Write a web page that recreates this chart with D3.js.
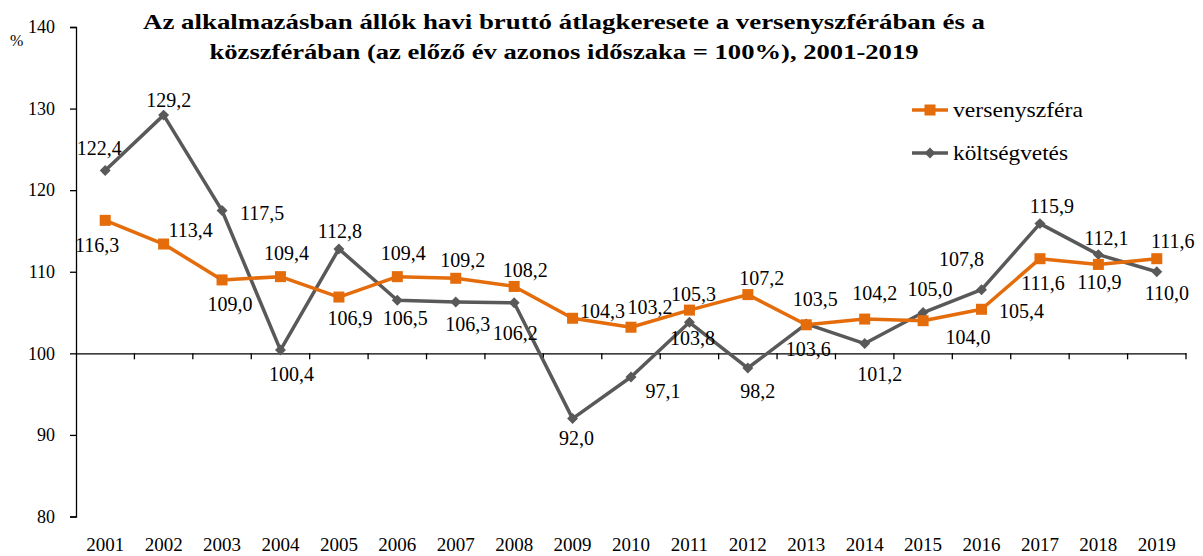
<!DOCTYPE html>
<html>
<head>
<meta charset="utf-8">
<script src="https://cdn.jsdelivr.net/npm/d3@7"></script>
<style>
  body { margin: 0; background: #fff; }
  svg { display: block; }
  text { font-family: "Liberation Serif", "Times New Roman", serif; fill: #000; }
</style>
</head>
<body>
<svg id="chart" width="1203" height="556"></svg>
<script>
// ---- data ----
const years = ["2001","2002","2003","2004","2005","2006","2007","2008","2009","2010",
               "2011","2012","2013","2014","2015","2016","2017","2018","2019"];
const versenyszfera = [116.3,113.4,109.0,109.4,106.9,109.4,109.2,108.2,104.3,103.2,
                       105.3,107.2,103.5,104.2,104.0,105.4,111.6,110.9,111.6];
const koltsegvetes  = [122.4,129.2,117.5,100.4,112.8,106.5,106.3,106.2,92.0,97.1,
                       103.8,98.2,103.6,101.2,105.0,107.8,115.9,112.1,110.0];
const yTicks = [80, 90, 100, 110, 120, 130, 140];
const seriesNames = ["versenyszféra", "költségvetés"];
const titleLines = ["Az alkalmazásban állók havi bruttó átlagkeresete a versenyszférában és a",
                    "közszférában (az előző év azonos időszaka = 100%), 2001-2019"];

// ---- layout (label offsets relative to the point, in px) ----
const titleWidths = [842, 709];
const legendWidths = [130, 115];
const offV = [[-8,25],[27,-14],[8,24],[6,-24],[11,21],[6,-24],[7,-18],[11,-16],[30,-7],[19,-20],
              [4,-16],[14,-17],[9,-26],[10,-26],[45,16],[40,2],[3,24],[1,18],[16,-18]];
const offK = [[-6,-23],[5,-15],[40,2],[11,24],[1,-18],[8,18],[12,22],[1,30],[4,19],[32,14],
              [3,16],[10,23],[2,25],[15,30],[7,-24],[-20,-31],[12,-18],[8,-17],[10,21]];

const orange = "#E46C0A", gray = "#595959";
const svg = d3.select("#chart");
const x = d3.scaleBand().domain(years).range([76, 1186]);
const y = d3.scaleLinear().domain([80, 140]).range([516.5, 27]);

// title
svg.append("g").selectAll("text").data(titleLines).join("text")
  .attr("x", 564).attr("y", (d, i) => 29 + i * 30)
  .attr("text-anchor", "middle")
  .attr("textLength", (d, i) => titleWidths[i]).attr("lengthAdjust", "spacingAndGlyphs")
  .style("font-size", "22px").style("font-weight", "bold")
  .text(d => d);

// y axis
const yAxis = svg.append("g").attr("transform", "translate(76,0)")
  .call(d3.axisLeft(y).tickValues(yTicks).tickSize(6).tickPadding(15).tickFormat(d3.format("d")));
yAxis.select(".domain").attr("stroke", "#000").attr("stroke-width", 1.3);
yAxis.selectAll(".tick line").attr("stroke", "#000").attr("stroke-width", 1.3);
yAxis.selectAll(".tick text").style("font-size", "18px").style("font-family", "Liberation Serif");

svg.append("text").attr("x", 10).attr("y", 46).style("font-size", "16px").text("%");

// x axis at 100
const xAxis = svg.append("g").attr("transform", `translate(0,${y(100)})`)
  .call(d3.axisBottom(x).tickSize(0).tickFormat(""));
xAxis.select(".domain").attr("stroke", "#000").attr("stroke-width", 1.3);
xAxis.selectAll(".tick").remove();
const bounds = years.map(d => x(d)).concat([x.range()[1]]).slice(1);
xAxis.selectAll("line.bt").data(bounds).join("line").attr("class", "bt")
  .attr("x1", d => d).attr("x2", d => d).attr("y1", 0).attr("y2", 6)
  .attr("stroke", "#000").attr("stroke-width", 1.3);

// year labels at bottom
svg.append("g").selectAll("text").data(years).join("text")
  .attr("x", d => x(d) + x.bandwidth() / 2).attr("y", 551)
  .attr("text-anchor", "middle").style("font-size", "19px").text(d => d);

const cx = (d, i) => x(years[i]) + x.bandwidth() / 2;
const line = d3.line().x((d, i) => cx(d, i)).y(d => y(d));

// költségvetés
svg.append("path").datum(koltsegvetes).attr("d", line)
  .attr("fill", "none").attr("stroke", gray).attr("stroke-width", 3.5).attr("stroke-linejoin", "round");
svg.append("g").selectAll("path").data(koltsegvetes).join("path")
  .attr("d", d3.symbol(d3.symbolSquare, 60))
  .attr("transform", (d, i) => `translate(${cx(d, i)},${y(d)}) rotate(45)`)
  .attr("fill", gray);

// versenyszféra
svg.append("path").datum(versenyszfera).attr("d", line)
  .attr("fill", "none").attr("stroke", orange).attr("stroke-width", 3.5).attr("stroke-linejoin", "round");
svg.append("g").selectAll("rect").data(versenyszfera).join("rect")
  .attr("x", (d, i) => cx(d, i) - 5.5).attr("y", d => y(d) - 5.5)
  .attr("width", 11).attr("height", 11).attr("fill", orange);

const fmt = v => v.toFixed(1).replace(".", ",");
svg.append("g").selectAll("text").data(versenyszfera).join("text")
  .attr("x", (d, i) => cx(d, i) + offV[i][0]).attr("y", (d, i) => y(d) + offV[i][1])
  .attr("text-anchor", "middle").attr("dominant-baseline", "central")
  .style("font-size", "20px").text(fmt);
svg.append("g").selectAll("text").data(koltsegvetes).join("text")
  .attr("x", (d, i) => cx(d, i) + offK[i][0]).attr("y", (d, i) => y(d) + offK[i][1])
  .attr("text-anchor", "middle").attr("dominant-baseline", "central")
  .style("font-size", "20px").text(fmt);

// legend
const legend = svg.append("g");
const legItems = [{name: seriesNames[0], color: orange, sym: "sq", ly: 110, w: legendWidths[0]},
                  {name: seriesNames[1], color: gray, sym: "di", ly: 153, w: legendWidths[1]}];
legItems.forEach(it => {
  legend.append("line").attr("x1", 912).attr("x2", 948).attr("y1", it.ly).attr("y2", it.ly)
    .attr("stroke", it.color).attr("stroke-width", 3.5);
  if (it.sym === "sq") {
    legend.append("rect").attr("x", 924.5).attr("y", it.ly - 5.5).attr("width", 11).attr("height", 11).attr("fill", it.color);
  } else {
    legend.append("path").attr("d", d3.symbol(d3.symbolSquare, 60))
      .attr("transform", `translate(930,${it.ly}) rotate(45)`).attr("fill", it.color);
  }
  legend.append("text").attr("x", 953).attr("y", it.ly).attr("dominant-baseline", "central")
    .attr("textLength", it.w).attr("lengthAdjust", "spacingAndGlyphs")
    .style("font-size", "21px").text(it.name);
});
</script>
</body>
</html>
